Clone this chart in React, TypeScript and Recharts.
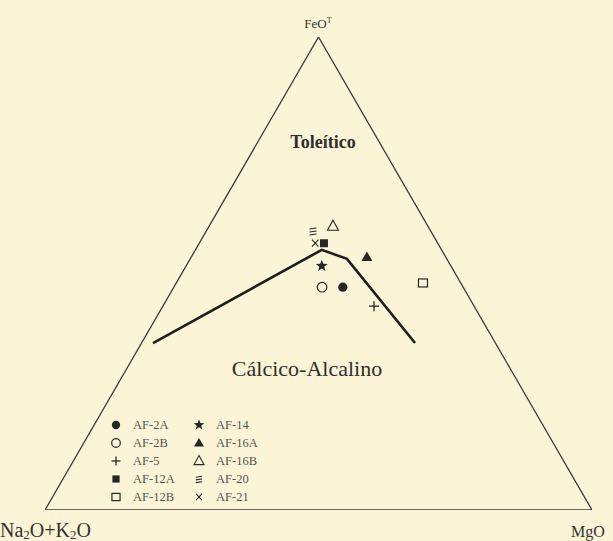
import React from 'react';
import { ComposedChart, Line, Scatter, XAxis, YAxis } from 'recharts';

// AFM diagram (Irvine & Baragar) - values in wt% (A = Na2O+K2O, F = FeOt, M = MgO)
const sampleNames = ['AF-2A', 'AF-2B', 'AF-5', 'AF-12A', 'AF-12B', 'AF-14', 'AF-16A', 'AF-16B', 'AF-20', 'AF-21'];
const sampleA = [22.0, 25.8, 18.3, 20.8, 6.9, 23.6, 14.4, 17.35, 21.5, 22.4];
const sampleF = [47.1, 47.1, 43.1, 56.4, 48.0, 51.6, 53.5, 60.0, 59.0, 56.4];
const sampleM = [30.9, 27.1, 38.6, 22.8, 45.1, 24.8, 32.1, 22.65, 19.5, 21.2];
const sampleShapes = ['dot', 'circle', 'plus', 'square', 'box', 'star', 'triangle', 'openTriangle', 'hash', 'cross'];

const boundaryA = [62.6, 21.9, 18.25, 14.7];
const boundaryF = [35.3, 55.0, 53.1, 35.3];
const boundaryM = [2.1, 23.1, 28.65, 50.0];

const cornerA = [100, 0, 0, 100];
const cornerF = [0, 0, 100, 0];
const cornerM = [0, 100, 0, 0];

const H = Math.sqrt(3) / 2;
const project = (a: number, f: number, m: number) => {
  const s = a + f + m;
  return { x: ((m + f / 2) / s) * 100, y: (f / s) * 100 * H };
};

const triangleData = cornerA.map((a, i) => project(a, cornerF[i], cornerM[i]));
const boundaryData = boundaryA.map((a, i) => project(a, boundaryF[i], boundaryM[i]));

const INK = '#262626';

const drawMarker = (kind: string, cx: number, cy: number, k = 1) => {
  switch (kind) {
    case 'dot':
      return <circle cx={cx} cy={cy} r={4.6 * k} fill={INK} />;
    case 'circle':
      return <circle cx={cx} cy={cy} r={4.8 * k} fill="none" stroke={INK} strokeWidth={1.2} />;
    case 'plus':
      return (
        <g stroke={INK} strokeWidth={1.3}>
          <line x1={cx - 5 * k} y1={cy} x2={cx + 5 * k} y2={cy} />
          <line x1={cx} y1={cy - 5 * k} x2={cx} y2={cy + 5 * k} />
        </g>
      );
    case 'square':
      return <rect x={cx - 4 * k} y={cy - 4 * k} width={8 * k} height={8 * k} fill={INK} />;
    case 'box':
      return <rect x={cx - 4.5 * k} y={cy - 4 * k} width={9 * k} height={8 * k} fill="none" stroke={INK} strokeWidth={1.2} />;
    case 'star': {
      const pts: string[] = [];
      for (let i = 0; i < 10; i++) {
        const r = (i % 2 === 0 ? 6.2 : 2.6) * k;
        const ang = -Math.PI / 2 + (i * Math.PI) / 5;
        pts.push(`${cx + r * Math.cos(ang)},${cy + r * Math.sin(ang)}`);
      }
      return <polygon points={pts.join(' ')} fill={INK} />;
    }
    case 'triangle':
      return <polygon points={`${cx},${cy - 5.5 * k} ${cx + 5.5 * k},${cy + 4 * k} ${cx - 5.5 * k},${cy + 4 * k}`} fill={INK} />;
    case 'openTriangle':
      return (
        <polygon
          points={`${cx},${cy - 6 * k} ${cx + 5.5 * k},${cy + 4 * k} ${cx - 5.5 * k},${cy + 4 * k}`}
          fill="none"
          stroke={INK}
          strokeWidth={1.1}
        />
      );
    case 'hash':
      return (
        <g stroke={INK} strokeWidth={1.1}>
          <line x1={cx - 3.5 * k} y1={cy - 2 * k} x2={cx + 3.5 * k} y2={cy - 3 * k} />
          <line x1={cx - 3.5 * k} y1={cy + 1 * k} x2={cx + 3.5 * k} y2={cy} />
          <line x1={cx - 3.5 * k} y1={cy + 4 * k} x2={cx + 3.5 * k} y2={cy + 3 * k} />
        </g>
      );
    case 'cross':
      return (
        <g stroke={INK} strokeWidth={1.1}>
          <line x1={cx - 3.2 * k} y1={cy - 3.5 * k} x2={cx + 3.2 * k} y2={cy + 3.5 * k} />
          <line x1={cx + 3.2 * k} y1={cy - 3.5 * k} x2={cx - 3.2 * k} y2={cy + 3.5 * k} />
        </g>
      );
    default:
      return null;
  }
};

const legendCols = [116, 199];
const legendRows = [425, 443, 461, 479, 497];

export default function App() {
  const font = '"Liberation Serif", "DejaVu Serif", serif';
  return (
    <div style={{ position: 'absolute', left: 0, top: 0, width: 613, height: 541, background: '#FCF4D6' }}>
      <ComposedChart width={613} height={541} margin={{ top: 37, right: 21, bottom: 31, left: 45 }}>
        <XAxis type="number" dataKey="x" domain={[0, 100]} hide allowDataOverflow />
        <YAxis type="number" dataKey="y" domain={[0, 100 * H]} hide allowDataOverflow />
        <Line
          data={triangleData}
          dataKey="y"
          type="linear"
          stroke="#3a3a3a"
          strokeWidth={1.3}
          dot={false}
          activeDot={false}
          isAnimationActive={false}
        />
        <Line
          data={boundaryData}
          dataKey="y"
          type="linear"
          stroke="#1e1e1e"
          strokeWidth={2.6}
          dot={false}
          activeDot={false}
          isAnimationActive={false}
        />
        {sampleNames.map((name, i) => (
          <Scatter
            key={name}
            name={name}
            data={[project(sampleA[i], sampleF[i], sampleM[i])]}
            dataKey="y"
            isAnimationActive={false}
            shape={(p: any) => drawMarker(sampleShapes[i], p.cx, p.cy)}
          />
        ))}

        {/* vertex and field labels */}
        <text x={318} y={28} textAnchor="middle" fontFamily={font} fontSize={13} fill="#333">
          FeO<tspan fontSize={8} dy={-5}>T</tspan>
        </text>
        <text x={0} y={537} fontFamily={font} fontSize={20} fill="#333">
          Na<tspan fontSize={13} dy={2}>2</tspan>
          <tspan dy={-2}>O+K</tspan>
          <tspan fontSize={13} dy={2}>2</tspan>
          <tspan dy={-2}>O</tspan>
        </text>
        <text x={571} y={537} fontFamily={font} fontSize={16} fill="#333">
          MgO
        </text>
        <text x={323} y={148} textAnchor="middle" fontFamily={font} fontSize={18} fontWeight={600} fill="#2e2e2e">
          Toleítico
        </text>
        <text x={307} y={376} textAnchor="middle" fontFamily={font} fontSize={22} fill="#2e2e2e">
          Cálcico-Alcalino
        </text>

        {/* legend */}
        {sampleNames.map((name, i) => {
          const col = Math.floor(i / 5);
          const row = i % 5;
          const mx = legendCols[col];
          const my = legendRows[row];
          return (
            <g key={`lg-${name}`}>
              {drawMarker(sampleShapes[i], mx, my, 0.9)}
              <text x={mx + 17} y={my + 4} fontFamily={font} fontSize={12.5} fill="#555">
                {name}
              </text>
            </g>
          );
        })}
      </ComposedChart>
    </div>
  );
}
